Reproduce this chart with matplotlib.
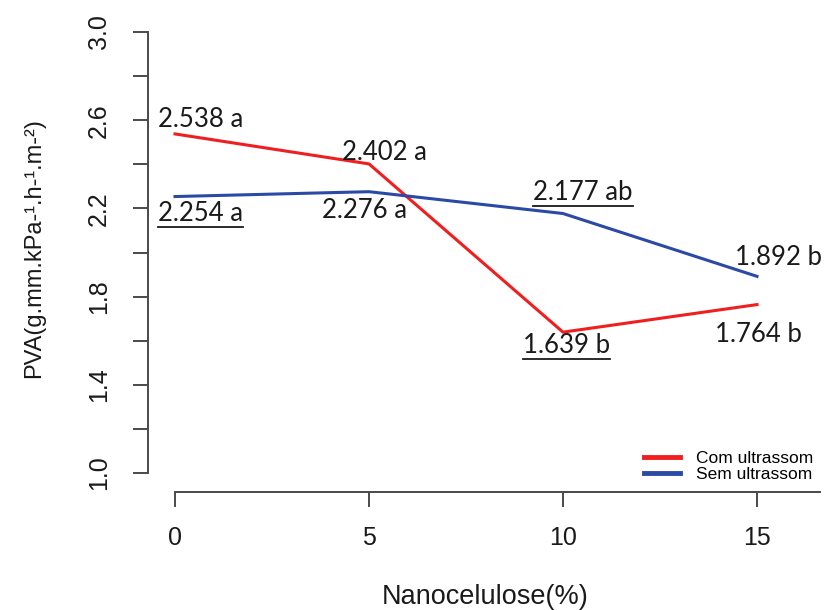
import matplotlib
matplotlib.use('Agg')
import matplotlib.pyplot as plt
from matplotlib.lines import Line2D

# data
nano = [0, 5, 10, 15]
com_ultra = [2.538, 2.402, 1.639, 1.764]
sem_ultra = [2.254, 2.276, 2.177, 1.892]
com_letters = ['a', 'a', 'b', 'b']
sem_letters = ['a', 'a', 'ab', 'b']

red = '#f01e1e'
blue = '#2b4aa5'
axcol = '#4a4a4a'

W, H = 837, 610
fig = plt.figure(figsize=(W / 100, H / 100), dpi=100)
# axes box in pixels: left 148, right 822, top 25, bottom 492
ax = fig.add_axes([148 / W, (H - 492) / H, (822 - 148) / W, (492 - 25) / H])
ax.set_xlim(-0.696, 16.675)
ax.set_ylim(0.914, 3.032)

ax.plot(nano, com_ultra, color=red, lw=2.2, label='Com ultrassom')
ax.plot(nano, sem_ultra, color=blue, lw=2.2, label='Sem ultrassom')

for s in ['top', 'right']:
    ax.spines[s].set_visible(False)
ax.spines['left'].set_bounds(1.0, 3.0)
ax.spines['bottom'].set_bounds(0, 16.62)
for s in ['left', 'bottom']:
    ax.spines[s].set_color(axcol)
    ax.spines[s].set_linewidth(1.4)

yt = [1.0, 1.2, 1.4, 1.6, 1.8, 2.0, 2.2, 2.4, 2.6, 2.8, 3.0]
ax.set_yticks(yt)
ax.set_yticklabels(['%.1f' % v if i % 2 == 0 else '' for i, v in enumerate(yt)],
                   rotation=90, va='center', fontsize=18, family='Liberation Sans')
ax.set_xticks(nano)
ax.set_xticklabels([str(v) for v in nano], fontsize=18, family='Liberation Sans')
ax.tick_params(axis='both', direction='out', length=10.5, width=1.4, color=axcol,
               colors='#1a1a1a', pad=16)
ax.tick_params(axis='x', pad=14)

fig.text(485 / W, 1 - 597 / H, 'Nanocelulose(%)', ha='center', va='center',
         fontsize=19.5, family='Liberation Sans', color='#1a1a1a')
fig.text(34 / W, 1 - 248 / H, 'PVA(g.mm.kPa-¹.h-¹.m-²)', ha='center',
         va='center', rotation=90, fontsize=17, family='Liberation Sans', color='#1a1a1a')

# value labels: (dx, dy) pixel offsets from point, underline flag
com_off = [(-17, 14, False), (-27, 11, False), (-40, -13, True), (-42, -30, False)]
sem_off = [(-17, -17, True), (-47, -19, False), (-30, 21, True), (-22, 19, False)]

underlined = []
for vals, lets, offs in [(com_ultra, com_letters, com_off), (sem_ultra, sem_letters, sem_off)]:
    for x, v, l, (dx, dy, ul) in zip(nano, vals, lets, offs):
        t = ax.annotate('%.3f %s' % (v, l), (x, v), xytext=(dx, dy),
                        textcoords='offset pixels', ha='left', va='center',
                        fontsize=18.5, family='Lato', color='#1a1a1a')
        if ul:
            underlined.append(t)

leg = ax.legend(loc='lower right', bbox_to_anchor=(813 / W, (H - 482) / H),
                bbox_transform=fig.transFigure, frameon=False, borderpad=0,
                borderaxespad=0, prop={'family': 'Liberation Sans', 'size': 12.5},
                handlelength=2.1, handletextpad=0.9, labelspacing=0.05)
for h in leg.get_lines():
    h.set_linewidth(3.5)

fig.canvas.draw()
r = fig.canvas.get_renderer()
for t in underlined:
    bb = t.get_window_extent(r)
    yline = bb.y0 - 1
    fig.add_artist(Line2D([bb.x0 / W, bb.x1 / W], [yline / H, yline / H],
                          color='#1a1a1a', lw=1.3, transform=fig.transFigure))

fig.savefig('out.png', dpi=100)
